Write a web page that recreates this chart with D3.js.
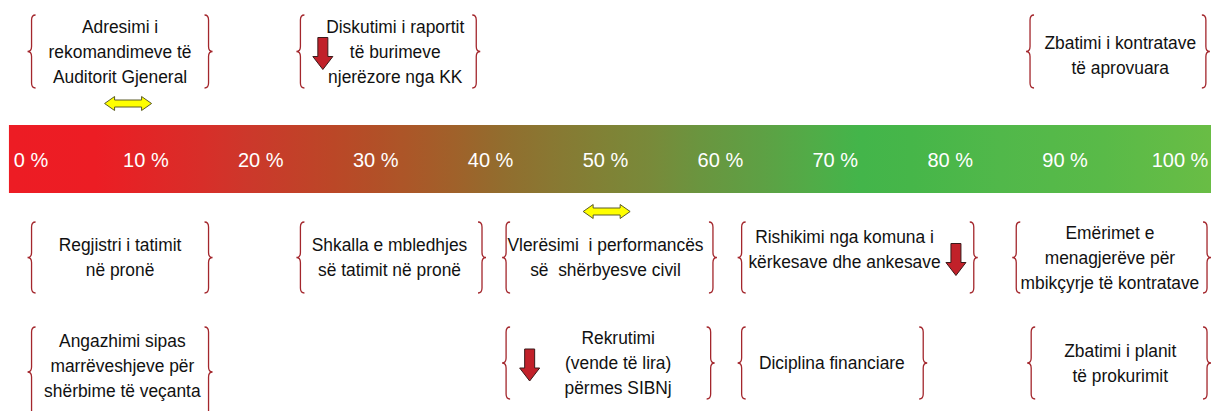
<!DOCTYPE html>
<html>
<head>
<meta charset="utf-8">
<script src="https://cdn.jsdelivr.net/npm/d3@7"></script>
<style>
  body { margin: 0; background: #fff; }
  svg { display: block; font-family: Arial, "Liberation Sans", sans-serif; }
  .block text { white-space: pre; }
</style>
</head>
<body>
<svg id="chart"></svg>
<script>
// ---------------------------------------------------------------------------//
// DATA -----------------------------------------------------------------------//
// ---------------------------------------------------------------------------//

var ticks = [0, 10, 20, 30, 40, 50, 60, 70, 80, 90, 100]
var tickLabels = ticks.map(function (d) { return d + " %" })

// the tasks, each one sits over a stretch of the percent scale
var blockLabels = [
    ["Adresimi i", "rekomandimeve të", "Auditorit Gjeneral"],
    ["Diskutimi i raportit", "të burimeve", "njerëzore nga KK"],
    ["Zbatimi i kontratave", "të aprovuara"],
    ["Regjistri i tatimit", "në pronë"],
    ["Shkalla e mbledhjes", "së tatimit në pronë"],
    ["Vlerësimi  i performancës", "së  shërbyesve civil"],
    ["Rishikimi nga komuna i", "kërkesave dhe ankesave"],
    ["Emërimet e", "menagjerëve për", "mbikçyrje të kontratave"],
    ["Angazhimi sipas", "marrëveshjeve për", "shërbime të veçanta"],
    ["Rekrutimi", "(vende të lira)", "përmes SIBNj"],
    ["Diciplina financiare"],
    ["Zbatimi i planit", "të prokurimit"]
]
var blockRow = [0, 0, 0, 1, 1, 1, 1, 1, 2, 2, 2, 2]
var blockFrom = [-0.3, 23.1, 86.6, -0.3, 23.1, 41.0, 61.5, 85.4, -0.3, 41.0, 61.5, 86.7]
var blockTo = [15.8, 39.1, 102.6, 15.8, 39.6, 59.7, 82.4, 102.7, 15.8, 59.5, 78.0, 102.7]
var blockTextAt = [7.75, 31.7, 94.8, 7.75, 31.2, 50.0, 70.8, 93.9, 7.95, 51.1, 69.7, 94.8]

// trend markers: "both" = yellow double arrow, "down" = red arrow
var trendKind = ["both", "down", "both", "down", "down"]
var trendAt = [8.45, 25.4, 50.1, 80.5, 43.4]
var trendRow = [0, 0, 1, 1, 2]

// ---------------------------------------------------------------------------//
// SETUP ----------------------------------------------------------------------//
// ---------------------------------------------------------------------------//

var width = 1211
var height = 411

var svg = d3.select("#chart")
    .attr("width", width)
    .attr("height", height)

var x = d3.scaleLinear()
    .domain([0, 100])
    .range([31, 1180])

// layout
var barTop = 125, barBottom = 193
var rowTop = [15, 222, 327]
var rowBottom = [88, 293, 399]
var lineH = 25
var braceW = 8
var braceColor = "#a3262c"
var textShift = { 2: 4, 6: -8, 8: 3 }
var bottomOverride = { 8: 417 }

// ---------------------------------------------------------------------------//
// GRADIENT BAR ---------------------------------------------------------------//
// ---------------------------------------------------------------------------//

var grad = svg.append("defs").append("linearGradient")
    .attr("id", "bar-grad")
    .attr("x1", "0%").attr("x2", "100%")
    .attr("y1", "0%").attr("y2", "0%")

var stops = [
    [0, "#ed1c24"], [0.072, "#ec1d24"], [0.16, "#d82e29"], [0.2, "#cc382b"],
    [0.27, "#bb4727"], [0.33, "#ac5628"], [0.37, "#a0612a"], [0.41, "#926d2e"],
    [0.46, "#877a33"], [0.5, "#7f8336"], [0.535, "#788a3a"], [0.575, "#6a953f"],
    [0.625, "#5ea044"], [0.665, "#52ab47"], [0.708, "#43b54a"], [0.75, "#46b649"],
    [0.825, "#51b84a"], [0.91, "#59ba48"], [1, "#69bd45"]
]
grad.selectAll("stop")
    .data(stops)
    .enter()
    .append("stop")
    .attr("offset", function (d) { return d[0] })
    .attr("stop-color", function (d) { return d[1] })

svg.append("rect")
    .attr("x", x(-1.92))
    .attr("y", barTop)
    .attr("width", width - x(-1.92))
    .attr("height", barBottom - barTop)
    .style("fill", "url(#bar-grad)")

svg.selectAll(".tick-label")
    .data(ticks)
    .enter()
    .append("text")
    .attr("class", "tick-label")
    .attr("x", function (d) { return x(d) })
    .attr("y", 166.5)
    .attr("text-anchor", "middle")
    .style("font-size", "20px")
    .style("fill", "#ffffff")
    .text(function (d, i) { return tickLabels[i] })

// ---------------------------------------------------------------------------//
// BLOCKS ---------------------------------------------------------------------//
// ---------------------------------------------------------------------------//

function bracePath(tx, top, bot, dir) {
    // dir = 1 for "{" (tip on left), -1 for "}" (tip on right)
    var mid = (top + bot) / 2
    var r = 5
    var arm = tx + dir * braceW
    var col = tx + dir * braceW / 2
    return "M" + arm + "," + top +
        " Q" + col + "," + top + " " + col + "," + (top + r) +
        " L" + col + "," + (mid - r) +
        " Q" + col + "," + mid + " " + tx + "," + mid +
        " Q" + col + "," + mid + " " + col + "," + (mid + r) +
        " L" + col + "," + (bot - r) +
        " Q" + col + "," + bot + " " + arm + "," + bot
}

var blocks = svg.selectAll(".block")
    .data(blockLabels)
    .enter()
    .append("g")
    .attr("class", "block")

blocks.append("path")
    .attr("d", function (d, i) {
        var bot = bottomOverride[i] || rowBottom[blockRow[i]]
        return bracePath(x(blockFrom[i]), rowTop[blockRow[i]], bot, 1)
    })
    .style("fill", "none")
    .style("stroke", braceColor)
    .style("stroke-width", 1.3)

blocks.append("path")
    .attr("d", function (d, i) {
        var bot = bottomOverride[i] || rowBottom[blockRow[i]]
        return bracePath(x(blockTo[i]), rowTop[blockRow[i]], bot, -1)
    })
    .style("fill", "none")
    .style("stroke", braceColor)
    .style("stroke-width", 1.3)

blocks.each(function (lines, i) {
    var r = blockRow[i]
    var mid = (rowTop[r] + rowBottom[r]) / 2 + (textShift[i] || 0)
    var first = mid - (lines.length - 1) * lineH / 2 + 6.5
    var t = d3.select(this).append("g")
        .attr("transform", "translate(" + x(blockTextAt[i]) + ",0) scale(0.94,1)")
    t.selectAll("text")
        .data(lines)
        .enter()
        .append("text")
        .attr("x", 0)
        .attr("y", function (d, j) { return first + j * lineH })
        .attr("text-anchor", "middle")
        .attr("xml:space", "preserve")
        .style("font-size", "18.5px")
        .style("fill", "#111")
        .text(function (d) { return d })
})

// ---------------------------------------------------------------------------//
// TREND ARROWS ---------------------------------------------------------------//
// ---------------------------------------------------------------------------//

var bothY = { 0: 103.5, 1: 211.5 }

function doubleArrow(cx, cy) {
    var hw = 23.5, head = 10, sh = 3.5, hh = 7
    return "M" + (cx - hw) + "," + cy +
        " L" + (cx - hw + head) + "," + (cy - hh) +
        " L" + (cx - hw + head) + "," + (cy - sh) +
        " L" + (cx + hw - head) + "," + (cy - sh) +
        " L" + (cx + hw - head) + "," + (cy - hh) +
        " L" + (cx + hw) + "," + cy +
        " L" + (cx + hw - head) + "," + (cy + hh) +
        " L" + (cx + hw - head) + "," + (cy + sh) +
        " L" + (cx - hw + head) + "," + (cy + sh) +
        " L" + (cx - hw + head) + "," + (cy + hh) + " Z"
}

function downArrow(cx, cy) {
    var top = cy - 16, bot = cy + 16, sw = 5, hw = 10, head = 13
    return "M" + (cx - sw) + "," + top +
        " L" + (cx + sw) + "," + top +
        " L" + (cx + sw) + "," + (bot - head) +
        " L" + (cx + hw) + "," + (bot - head) +
        " L" + cx + "," + bot +
        " L" + (cx - hw) + "," + (bot - head) +
        " L" + (cx - sw) + "," + (bot - head) + " Z"
}

svg.selectAll(".trend")
    .data(trendKind)
    .enter()
    .append("path")
    .attr("class", "trend")
    .attr("d", function (d, i) {
        var r = trendRow[i]
        if (d === "both") return doubleArrow(x(trendAt[i]), bothY[r])
        return downArrow(x(trendAt[i]), (rowTop[r] + rowBottom[r]) / 2 + 2)
    })
    .style("fill", function (d) { return d === "both" ? "#ffff00" : "#c1212a" })
    .style("stroke", function (d) { return d === "both" ? "#5a5a2a" : "#3a1a1a" })
    .style("stroke-width", 1)
    .style("stroke-linejoin", "miter")
</script>
</body>
</html>
